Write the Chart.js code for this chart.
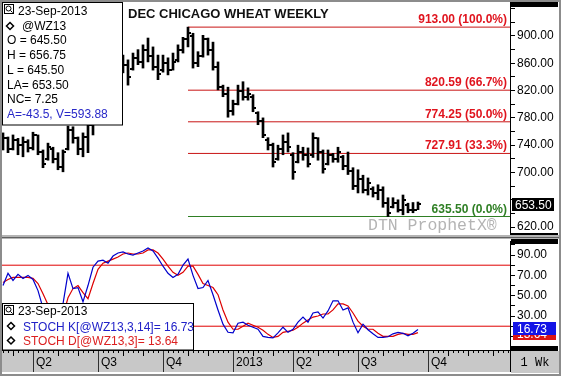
<!DOCTYPE html>
<html>
<head>
<meta charset="utf-8">
<title>DEC CHICAGO WHEAT WEEKLY</title>
<script src="https://cdn.jsdelivr.net/npm/chart.js@4.4.1/dist/chart.umd.min.js"></script>
<style>
  body { margin: 0; background: #fff; }
  #marco { position: relative; width: 561px; height: 376px; overflow: hidden; background: #fff; }
  #marco canvas { position: absolute; left: 0; }
  #precio { top: 0; }
  #estocastico { top: 238px; }
  #borde { position: absolute; left: 0; top: 0; width: 557px; height: 372px; border: 2px solid #8c8c8c; pointer-events: none; }
</style>
</head>
<body>
<div id="marco">
  <canvas id="precio" width="561" height="238"></canvas>
  <canvas id="estocastico" width="561" height="138"></canvas>
  <div id="borde"></div>
</div>
<script>
// semanas desde el 20-feb-2012 hasta el 23-sep-2013 (contrato WZ13)
const fechaInicio = new Date(2012, 1, 20);

const maximos = [758, 752, 755, 750, 752, 748, 759, 755, 733, 743,
  737, 729, 733, 768, 767, 752, 758, 777, 799, 821,
  865, 880, 887, 880, 872, 865, 875, 880, 887, 897,
  884, 872, 872, 868, 875, 887, 898, 913, 904, 877,
  901, 897, 891, 862, 828, 825, 806, 828, 833, 824,
  814, 789, 780, 751, 743, 740, 755, 758, 729, 740,
  737, 736, 758, 751, 733, 733, 728, 737, 725, 730,
  707, 704, 696, 692, 679, 682, 679, 663, 663, 660,
  667, 655, 656, 656.75];
const minimos = [733, 729, 733, 726, 723, 730, 733, 726, 707, 718,
  714, 704, 701, 733, 743, 726, 723, 729, 755, 777,
  813, 836, 843, 836, 846, 828, 850, 858, 853, 862,
  850, 836, 847, 843, 850, 862, 875, 884, 853, 855,
  869, 872, 850, 821, 811, 781, 784, 799, 806, 806,
  789, 770, 751, 733, 708, 718, 726, 730, 690, 714,
  718, 708, 722, 718, 699, 711, 715, 715, 704, 697,
  675, 670, 670, 667, 664, 660, 649, 635.5, 648, 642,
  638, 641, 641, 645.5];
const aperturas = [745, 750, 735, 748, 740, 745, 736, 755, 730, 720,
  735, 720, 708, 735, 762, 750, 735, 752, 770, 795,
  815, 860, 845, 870, 850, 858, 852, 868, 862, 880,
  870, 855, 850, 860, 850, 865, 880, 895, 900, 860,
  870, 895, 880, 855, 825, 815, 790, 800, 820, 810,
  810, 787, 775, 748, 740, 720, 735, 745, 725, 716,
  730, 725, 725, 750, 730, 713, 725, 720, 722, 710,
  702, 680, 690, 675, 676, 670, 675, 655, 650, 655,
  645, 652, 645, 645.5];
const cierres = [750, 735, 748, 740, 745, 736, 755, 730, 712, 738,
  720, 708, 730, 762, 750, 735, 752, 770, 795, 815,
  860, 845, 870, 850, 858, 840, 868, 862, 880, 870,
  855, 845, 860, 850, 862, 880, 895, 905, 860, 870,
  895, 880, 855, 825, 815, 790, 800, 820, 810, 815,
  795, 775, 755, 740, 715, 735, 745, 738, 700, 730,
  725, 712, 750, 730, 705, 725, 720, 730, 710, 702,
  680, 690, 675, 685, 670, 675, 655, 640, 655, 645,
  660, 645, 645, 653.5];

const stochK = [60, 72, 65, 71, 67, 70, 66, 55, 38, 30,
  25, 20, 42, 72, 57, 58, 44, 60, 78, 84,
  85, 82, 89, 92, 93, 91, 90, 92, 94, 97,
  94, 87, 79, 72, 68, 71, 80, 86, 70, 57,
  58, 65, 51, 36, 22, 14, 13.5, 23, 24, 21,
  19, 17, 10, 9, 8.5, 13.5, 19, 14, 17, 24,
  29, 24, 33, 34, 28, 35, 45, 45, 36, 38,
  24, 13.5, 22, 16.5, 12.5, 9, 9, 9.6, 12.5, 14,
  13, 10.6, 13, 16.73];
const stochD = [63, 66, 68, 68, 68, 68, 67, 62, 52, 41,
  31, 25, 30, 48, 57, 60, 53, 47, 62, 76,
  82, 84, 86, 88, 91, 92, 91, 91, 92, 95,
  95, 92, 86, 79, 73, 70, 73, 79, 79, 71,
  62, 60, 58, 51, 36, 24, 17, 17, 20, 23,
  21, 19, 16, 12, 9, 10, 14, 15, 16, 19,
  23, 26, 29, 30, 32, 32, 36, 42, 42, 40,
  33, 25, 20, 17, 17, 13, 10, 10, 10, 12,
  13, 12, 12, 13.64];

const nivelesFibo = [913.00, 820.59, 774.25, 727.91, 635.50];
const porcentajesFibo = ['100.0%', '66.7%', '50.0%', '33.3%', '0.0%'];
const nivelesStoch = [80, 20];

const indicesTrimestre = [6, 19, 32, 46, 58, 71, 85];
const etiquetasTrimestre = ['Q2', 'Q3', 'Q4', '2013', 'Q2', 'Q3', 'Q4'];

const leyendaPrecio = ['23-Sep-2013', '@WZ13', 'O = 645.50', 'H = 656.75', 'L = 645.50',
  'LA= 653.50', 'NC= 7.25', 'A=-43.5, V=593.88'];
const leyendaStoch = ['23-Sep-2013', 'STOCH K[@WZ13,3,14]= 16.73', 'STOCH D[@WZ13,3]= 13.64'];

document.addEventListener('DOMContentLoaded', () => {
    const FUENTE = '"Liberation Sans", Arial, sans-serif';
    const X_MIN = -0.2;
    const X_MAX = 101.4;
    const ANCHO_EJE = 51;
    const ROJO_FIBO = '#c81414';
    const VERDE_FIBO = '#2f7f24';

    Chart.defaults.font.family = FUENTE;
    Chart.defaults.font.size = 12;
    Chart.defaults.color = '#000';

    const ultimoCierre = cierres[cierres.length - 1];
    const ultimoK = stochK[stochK.length - 1];
    const ultimoD = stochD[stochD.length - 1];
    const indiceMaximo = maximos.indexOf(Math.max(...maximos));

    function diamante(ctx, cx, cy) {
        ctx.beginPath();
        ctx.moveTo(cx, cy - 3.5);
        ctx.lineTo(cx + 3.5, cy);
        ctx.lineTo(cx, cy + 3.5);
        ctx.lineTo(cx - 3.5, cy);
        ctx.closePath();
        ctx.lineWidth = 1.5;
        ctx.strokeStyle = '#000';
        ctx.stroke();
    }

    function icono(ctx, x, y) {
        ctx.lineWidth = 1;
        ctx.strokeStyle = '#000';
        ctx.strokeRect(x + 0.5, y + 0.5, 9, 9);
        ctx.beginPath();
        ctx.arc(x + 4.5, y + 4.5, 2.5, 0, Math.PI * 2);
        ctx.moveTo(x + 6.5, y + 6.5);
        ctx.lineTo(x + 8.5, y + 8.5);
        ctx.stroke();
    }

    // ---------- panel de precios ----------
    const barrasOHLC = {
        id: 'barrasOHLC',
        afterDatasetsDraw(chart) {
            const { ctx, scales: { x, y } } = chart;
            ctx.save();
            ctx.fillStyle = '#000';
            aperturas.forEach((o, i) => {
                const px = Math.round(x.getPixelForValue(i));
                ctx.fillRect(px - 3, Math.round(y.getPixelForValue(o)) - 1, 2, 2);
                ctx.fillRect(px + 1, Math.round(y.getPixelForValue(cierres[i])) - 1, 2, 2);
            });
            ctx.restore();
        }
    };

    const adornosPrecio = {
        id: 'adornosPrecio',
        afterDraw(chart) {
            const { ctx, chartArea: area, scales: { y } } = chart;
            ctx.save();

            // titulo
            ctx.fillStyle = '#111';
            ctx.font = 'bold 13px ' + FUENTE;
            ctx.textAlign = 'left';
            ctx.textBaseline = 'alphabetic';
            ctx.fillText('DEC CHICAGO WHEAT WEEKLY', 128, 18);

            // etiquetas fibonacci
            ctx.font = 'bold 12px ' + FUENTE;
            ctx.textAlign = 'right';
            nivelesFibo.forEach((nivel, i) => {
                const py = y.getPixelForValue(nivel);
                ctx.fillStyle = i === nivelesFibo.length - 1 ? VERDE_FIBO : '#e0141e';
                ctx.fillText(nivel.toFixed(2) + ' (' + porcentajesFibo[i] + ')', area.right - 3, py - 4);
            });

            // marca de agua
            ctx.textAlign = 'left';
            ctx.fillStyle = '#b4b4b4';
            ctx.font = '16.5px "Liberation Mono", "Courier New", monospace';
            ctx.fillText('DTN ProphetX\u00AE', 368, 230);

            // cuadro de leyenda
            ctx.fillStyle = '#fff';
            ctx.fillRect(2, 2, 120, 123);
            ctx.strokeStyle = '#000';
            ctx.lineWidth = 1;
            ctx.strokeRect(2.5, 2.5, 120, 122.5);
            icono(ctx, 4, 4);
            ctx.font = '12px ' + FUENTE;
            ctx.fillStyle = '#000';
            ctx.fillText(leyendaPrecio[0], 18, 15);
            diamante(ctx, 10, 26);
            ctx.fillText(leyendaPrecio[1], 22, 29.7);
            for (let i = 2; i < leyendaPrecio.length; i++) {
                ctx.fillStyle = i === leyendaPrecio.length - 1 ? '#2828c8' : '#000';
                ctx.fillText(leyendaPrecio[i], 7, 15 + 14.7 * i);
            }

            // eje derecho: barras negras y ultimo precio
            ctx.fillStyle = '#000';
            ctx.fillRect(area.right + 1, 2, 47, 5);
            ctx.fillRect(area.right + 1, 233, 47, 5);
            const pyCierre = Math.round(y.getPixelForValue(ultimoCierre));
            ctx.fillRect(area.right + 2, pyCierre - 6, 42, 13);
            ctx.fillStyle = '#fff';
            ctx.font = '12px ' + FUENTE;
            ctx.fillText(ultimoCierre.toFixed(2), area.right + 5, pyCierre + 4.5);

            // separador entre paneles
            ctx.fillStyle = '#b4b4b4';
            ctx.fillRect(0, 235, 561, 3);
            ctx.fillStyle = '#606060';
            ctx.fillRect(0, 237, 561, 1);
            ctx.restore();
        }
    };

    const datosFibo = nivelesFibo.map((nivel, i) => ({
        type: 'line',
        data: [{ x: indiceMaximo, y: nivel }, { x: X_MAX, y: nivel }],
        borderColor: i === nivelesFibo.length - 1 ? VERDE_FIBO : ROJO_FIBO,
        borderWidth: 1,
        pointRadius: 0,
        order: 2
    }));

    new Chart(document.getElementById('precio'), {
        type: 'bar',
        data: {
            datasets: [{
                type: 'bar',
                data: maximos.map((h, i) => ({ x: i, y: [minimos[i], h] })),
                backgroundColor: '#000',
                borderWidth: 0,
                barThickness: 2,
                order: 1
            }, ...datosFibo]
        },
        options: {
            responsive: false,
            animation: false,
            events: [],
            layout: { padding: { left: 2, top: 2, right: 0, bottom: 3 } },
            plugins: { legend: { display: false }, tooltip: { enabled: false } },
            scales: {
                x: { type: 'linear', min: X_MIN, max: X_MAX, offset: false, display: false },
                y: {
                    type: 'linear',
                    position: 'right',
                    min: 608.4,
                    max: 949.8,
                    afterBuildTicks: (escala) => {
                        const marcas = [];
                        for (let v = 620; v <= 940; v += 20) marcas.push({ value: v });
                        escala.ticks = marcas;
                    },
                    afterFit: (escala) => {
                        escala.width = ANCHO_EJE;
                        escala.paddingTop = 0;
                        escala.paddingBottom = 0;
                    },
                    ticks: {
                        padding: 2,
                        autoSkip: false,
                        font: { size: 12 },
                        callback: (v) => ((v - 620) % 40 === 0 && v <= 900 && Math.abs(v - ultimoCierre) > 10) ? v.toFixed(2) : ''
                    },
                    grid: { drawOnChartArea: false, tickLength: 5, color: '#000' },
                    border: { display: true, color: '#000' }
                }
            }
        },
        plugins: [barrasOHLC, adornosPrecio]
    });

    // ---------- panel estocastico ----------
    const tiraFechas = {
        id: 'tiraFechas',
        beforeDraw(chart) {
            const { ctx, chartArea: area, scales: { x } } = chart;
            const arriba = area.bottom;
            const alto = 22;
            ctx.save();
            ctx.fillStyle = '#c8c8c8';
            ctx.fillRect(0, arriba, area.right, alto);
            ctx.fillStyle = '#000';
            let mesPrevio = fechaInicio.getMonth();
            for (let i = 0; i <= Math.floor(X_MAX); i++) {
                const px = Math.round(x.getPixelForValue(i));
                const fecha = new Date(fechaInicio.getTime() + i * 7 * 86400000);
                const inicioMes = fecha.getMonth() !== mesPrevio;
                mesPrevio = fecha.getMonth();
                ctx.fillRect(px, arriba, 1, inicioMes ? 6 : 3);
            }
            ctx.fillStyle = '#303030';
            indicesTrimestre.forEach((idx) => {
                const px = Math.round(x.getPixelForValue(idx));
                ctx.fillRect(px, arriba, 1, alto);
            });
            ctx.restore();
        }
    };

    const adornosStoch = {
        id: 'adornosStoch',
        afterDraw(chart) {
            const { ctx, chartArea: area, scales: { y } } = chart;
            ctx.save();

            // cuadro de leyenda
            ctx.fillStyle = '#fff';
            ctx.fillRect(2, 65, 191, area.bottom - 65);
            ctx.strokeStyle = '#000';
            ctx.lineWidth = 1;
            ctx.strokeRect(2.5, 65.5, 191, area.bottom - 65.5);
            icono(ctx, 4, 67);
            ctx.font = '12px ' + FUENTE;
            ctx.textAlign = 'left';
            ctx.fillStyle = '#000';
            ctx.fillText(leyendaStoch[0], 18, 77);
            diamante(ctx, 11, 88);
            ctx.fillStyle = '#2020c8';
            ctx.fillText(leyendaStoch[1], 23, 92.5);
            diamante(ctx, 11, 102.5);
            ctx.fillStyle = '#dc2020';
            ctx.fillText(leyendaStoch[2], 23, 107);

            // eje derecho
            ctx.fillStyle = '#000';
            ctx.fillRect(area.right + 1, 1, 47, 5);
            ctx.fillRect(area.right + 1, area.bottom - 4, 47, 5);
            const pyD = Math.round(y.getPixelForValue(ultimoD));
            const pyK = Math.round(y.getPixelForValue(ultimoK)) - 2;
            ctx.fillStyle = '#dc1414';
            ctx.fillRect(area.right + 3, pyD - 6, 43, 13);
            ctx.fillStyle = '#fff';
            ctx.fillText(ultimoD.toFixed(2), area.right + 7, pyD + 4.5);
            ctx.fillStyle = '#1414e6';
            ctx.fillRect(area.right + 3, pyK - 6, 43, 13);
            ctx.fillStyle = '#fff';
            ctx.fillText(ultimoK.toFixed(2), area.right + 7, pyK + 4.5);

            // caja de periodo
            const arriba = area.bottom;
            ctx.fillStyle = '#c8c8c8';
            ctx.fillRect(area.right + 1, arriba + 1, 48, 22);
            ctx.fillStyle = '#000';
            ctx.fillRect(area.right, arriba, 1, 22);
            ctx.font = '12px "Liberation Mono", "Courier New", monospace';
            ctx.textAlign = 'center';
            ctx.fillText('1 Wk', area.right + 25, arriba + 16);

            // separador superior
            ctx.fillStyle = '#b4b4b4';
            ctx.fillRect(0, 0, 561, 1);
            ctx.restore();
        }
    };

    const datosNiveles = nivelesStoch.map((nivel) => ({
        data: [{ x: X_MIN, y: nivel }, { x: X_MAX, y: nivel }],
        borderColor: '#e00000',
        borderWidth: 1,
        pointRadius: 0
    }));

    new Chart(document.getElementById('estocastico'), {
        type: 'line',
        data: {
            datasets: [{
                data: stochK.map((v, i) => ({ x: i, y: v })),
                borderColor: '#0000cc',
                borderWidth: 1.2,
                pointRadius: 0,
                tension: 0
            }, {
                data: stochD.map((v, i) => ({ x: i, y: v })),
                borderColor: '#dd0000',
                borderWidth: 1.2,
                pointRadius: 0,
                tension: 0
            }, ...datosNiveles]
        },
        options: {
            responsive: false,
            animation: false,
            events: [],
            layout: { padding: { left: 2, top: 3, right: 0, bottom: 2 } },
            plugins: { legend: { display: false }, tooltip: { enabled: false } },
            scales: {
                x: {
                    type: 'linear',
                    min: X_MIN,
                    max: X_MAX,
                    afterBuildTicks: (escala) => {
                        escala.ticks = indicesTrimestre.map((v) => ({ value: v }));
                    },
                    afterFit: (escala) => {
                        escala.height = 24;
                        escala.paddingLeft = 0;
                        escala.paddingRight = 0;
                    },
                    ticks: {
                        align: 'start',
                        labelOffset: 3,
                        padding: 5,
                        autoSkip: false,
                        maxRotation: 0,
                        minRotation: 0,
                        font: { size: 12 },
                        callback: (v) => {
                            const k = indicesTrimestre.indexOf(v);
                            return k >= 0 ? etiquetasTrimestre[k] : '';
                        }
                    },
                    grid: { drawOnChartArea: false, drawTicks: false },
                    border: { display: true, color: '#000' }
                },
                y: {
                    type: 'linear',
                    position: 'right',
                    min: -3.4,
                    max: 103.8,
                    afterBuildTicks: (escala) => {
                        const marcas = [];
                        for (let v = 0; v <= 100; v += 10) marcas.push({ value: v });
                        escala.ticks = marcas;
                    },
                    afterFit: (escala) => {
                        escala.width = ANCHO_EJE;
                        escala.paddingTop = 0;
                        escala.paddingBottom = 0;
                    },
                    ticks: {
                        padding: 2,
                        autoSkip: false,
                        font: { size: 12 },
                        callback: (v) => (v % 20 === 10 && v <= 90 && Math.abs(v - ultimoK) > 8) ? v.toFixed(2) : ''
                    },
                    grid: { drawOnChartArea: false, tickLength: 5, color: '#000' },
                    border: { display: true, color: '#000' }
                }
            }
        },
        plugins: [tiraFechas, adornosStoch]
    });
});
</script>
</body>
</html>
